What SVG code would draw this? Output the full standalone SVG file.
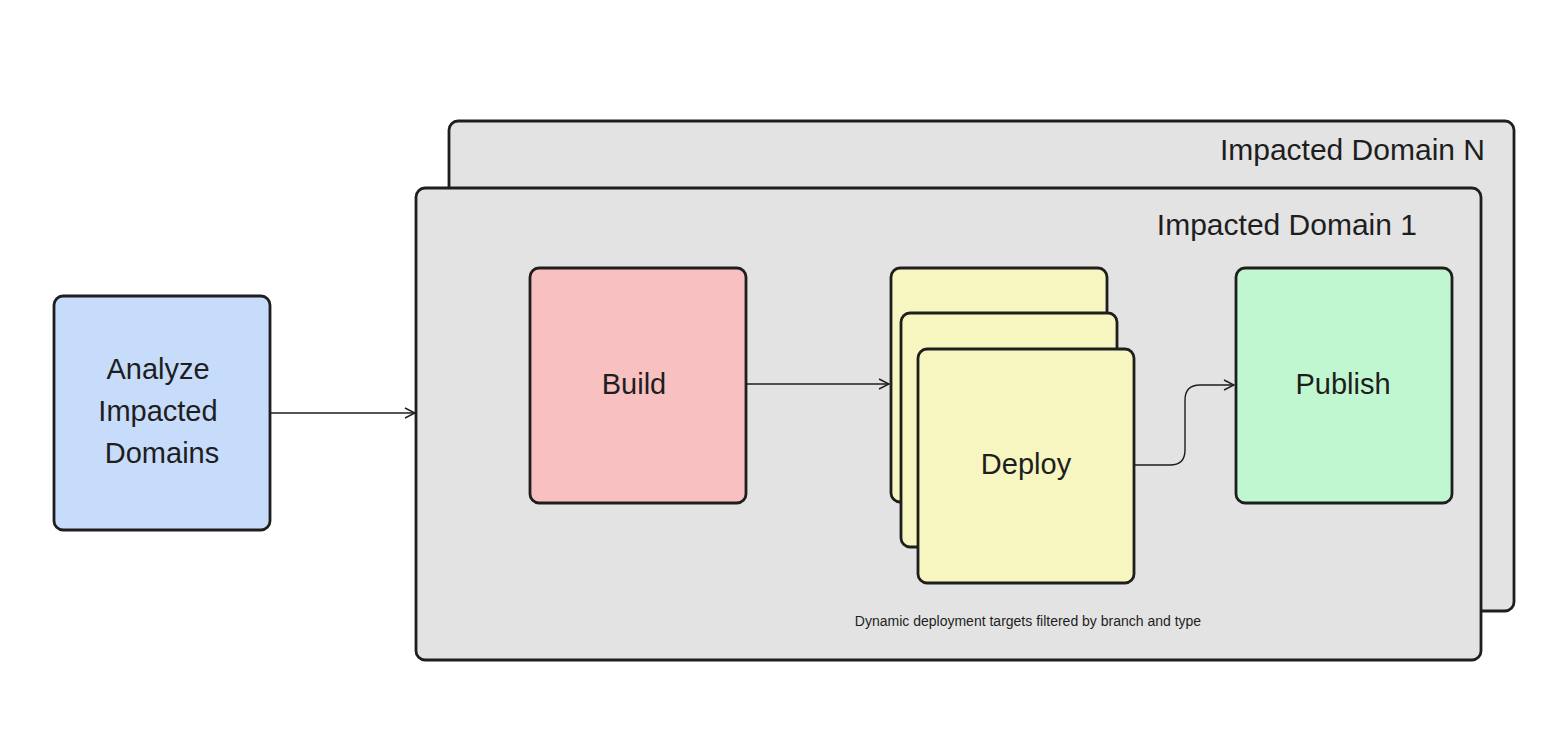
<svg xmlns="http://www.w3.org/2000/svg" width="1559" height="752" viewBox="0 0 1559 752">
<style>
.box{stroke:#1e1e1e;stroke-width:2.8;}
.t{font-family:"Liberation Sans",Arial,sans-serif;fill:#1e1e1e;text-anchor:middle;}
.lbl{font-size:29px;}
.hdr{font-size:30px;text-anchor:end;}
.note{font-size:14px;}
.conn{fill:none;stroke:#1e1e1e;stroke-width:1.4;}
</style>
<defs>
<marker id="arr" viewBox="0 0 12 12" refX="11" refY="6" markerWidth="12" markerHeight="12" markerUnits="userSpaceOnUse" orient="auto">
<path d="M1,1 L11,6 L1,11" fill="none" stroke="#1e1e1e" stroke-width="1.4"/>
</marker>
</defs>
<rect width="1559" height="752" fill="#ffffff"/>
<g id="domain-n">
<rect class="box" x="449" y="121" width="1065" height="490" rx="9" fill="#e3e3e3"/>
<text class="t hdr" x="1485" y="160">Impacted Domain N</text>
</g>
<g id="domain-1">
<rect class="box" x="416" y="188" width="1065" height="472" rx="9" fill="#e3e3e3"/>
<text class="t hdr" x="1417" y="235">Impacted Domain 1</text>
<text class="t note" x="1028" y="626">Dynamic deployment targets filtered by branch and type</text>
</g>
<g id="analyze">
<rect class="box" x="54" y="296" width="216" height="234" rx="9" fill="#c7dbfb"/>
<text class="t lbl" x="158" y="379">Analyze</text>
<text class="t lbl" x="158" y="421">Impacted</text>
<text class="t lbl" x="162" y="463">Domains</text>
</g>
<g id="build">
<rect class="box" x="530" y="268" width="216" height="235" rx="9" fill="#f8c0c1"/>
<text class="t lbl" x="634" y="394">Build</text>
</g>
<g id="deploy">
<rect class="box" x="891" y="268" width="216" height="234" rx="9" fill="#f7f6c0"/>
<rect class="box" x="901" y="313" width="216" height="234" rx="9" fill="#f7f6c0"/>
<rect class="box" x="918" y="349" width="216" height="234" rx="9" fill="#f7f6c0"/>
<text class="t lbl" x="1026" y="474">Deploy</text>
</g>
<g id="publish">
<rect class="box" x="1236" y="268" width="216" height="235" rx="9" fill="#c1f7d0"/>
<text class="t lbl" x="1343" y="394">Publish</text>
</g>
<g id="connectors">
<path class="conn" d="M271,413 L415,413" marker-end="url(#arr)"/>
<path class="conn" d="M747,384 L889,384" marker-end="url(#arr)"/>
<path class="conn" d="M1135,465 L1170,465 Q1185,465 1185,450 L1185,400 Q1185,385 1200,385 L1234,385" marker-end="url(#arr)"/>
</g>
</svg>
